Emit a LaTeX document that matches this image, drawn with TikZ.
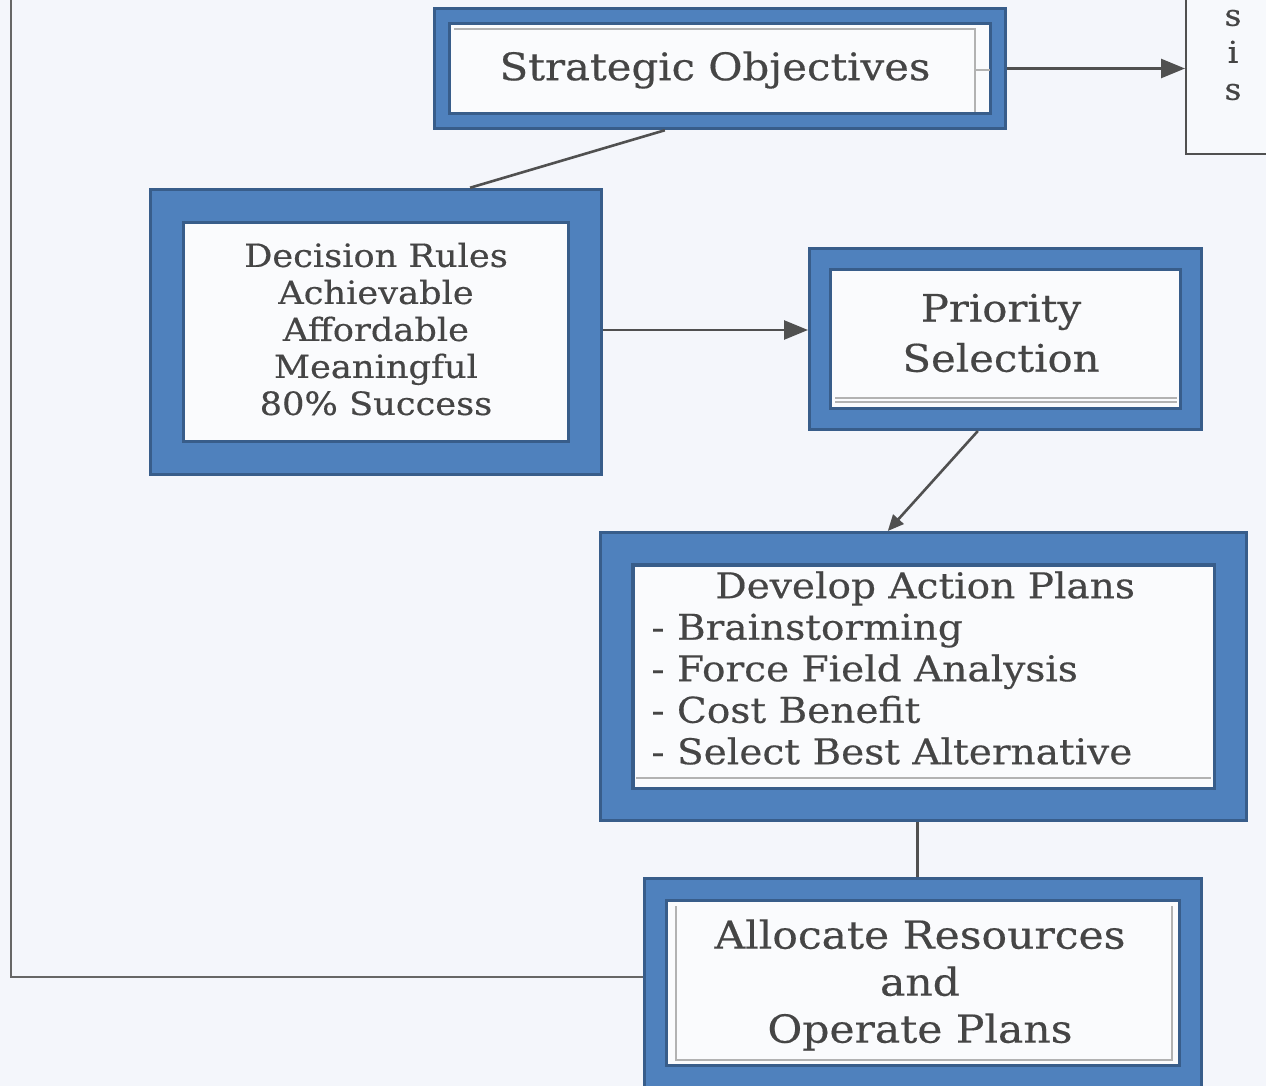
\documentclass[tikz,border=0pt]{standalone}
\usepackage{fontspec}
\setmainfont{DejaVu Serif}[FakeStretch=1.1,FakeBold=0.4]
\usetikzlibrary{arrows.meta,calc}
\definecolor{bgc}{HTML}{F4F6FB}
\definecolor{innerc}{HTML}{FAFBFD}
\definecolor{fblue}{HTML}{4F81BD}
\definecolor{fedge}{HTML}{385D8A}
\definecolor{ink}{HTML}{454545}
\definecolor{connc}{HTML}{505050}
\pgfdeclarelayer{background}
\pgfsetlayers{background,main}
\begin{document}
\begin{tikzpicture}[x=0.5pt,y=-0.5pt,
  frame/.style 2 args={draw=fedge,line width=1.6pt,double=fblue,double distance=#1,
    fill=innerc,inner sep=0pt,outer sep=#2},
  txt/.style={text=ink,inner sep=0pt},
  connector/.style={draw=connc,line width=1.3pt},
  arrowed/.style={connector,-{Triangle[length=12pt,width=9.5pt]}},
  smallarrowed/.style={connector,-{Triangle[length=8pt,width=7pt]}},
  scanline/.style={draw=gray!60,line width=0.8pt},
  fbline/.style={draw=gray!80!black,line width=1pt}]
\useasboundingbox (0,0) rectangle (1266,1086);
\clip (0,0) rectangle (1266,1086);
\begin{pgfonlayer}{background}
  \fill[bgc] (0,0) rectangle (1266,1086);
\end{pgfonlayer}

% partial box at top right
\node[draw=connc,line width=1pt,fill=innerc!50!bgc,inner sep=0pt,minimum width=150pt,
  minimum height=200pt,anchor=south west] (RB) at (1185,155) {};
\node[txt,font=\fontsize{15}{18.5}\selectfont,align=center] (tRB) at (1233,55) {s\\i\\s};

% framed boxes
\node[frame={5.8pt}{4.5pt},minimum width=278.25pt,minimum height=52.75pt] (SO) at (720,68.5) {};
\node[frame={15.05pt}{9.125pt},minimum width=209pt,minimum height=126pt] (DR) at (376,332) {};
\node[frame={8.8pt}{6pt},minimum width=185.5pt,minimum height=80pt] (PS) at (1005.5,339) {};
\node[frame={14.55pt}{8.875pt},minimum width=306.75pt,minimum height=127.75pt] (DAP) at (923.5,676.5) {};
\node[frame={9.3pt}{6.25pt},minimum width=267.5pt,minimum height=93.5pt] (AR) at (923,983) {};

% faint lines of the scanned original inside the frames
\draw[scanline] (454,29) -- (975,29) -- (975,112);
\draw[scanline] (975,70) -- (990,70);
\draw[scanline] (835,398) -- (1177,398);
\draw[scanline] (835,402) -- (1177,402);
\draw[scanline] (636,778) -- (1211,778);
\draw[scanline] (676,906) -- (676,1060) -- (1172,1060) -- (1172,906);

% texts
\node[txt,font=\fontsize{19}{22}\selectfont] (tSO) at (715,70) {Strategic Objectives};
\node[txt,font=\fontsize{16}{18.5}\selectfont,align=center] (tDR) at (376,329)
  {Decision Rules\\Achievable\\Affordable\\Meaningful\\80\% Success};
\node[txt,font=\fontsize{19}{25}\selectfont,align=center] (tPS) at (1001,333) {Priority\\Selection};
\node[txt,font=\fontsize{17.75}{20.75}\selectfont,align=left,anchor=west] (tDAP) at (651,668)
  {\hspace*{32pt}Develop Action Plans\\- Brainstorming\\- Force Field Analysis\\- Cost Benefit\\- Select Best Alternative};
\node[txt,font=\fontsize{19.3}{23.5}\selectfont,align=center] (tAR) at (920,985)
  {Allocate Resources\\and\\Operate Plans};

% connectors
\draw[arrowed] (SO.east) -- (SO.east -| RB.west);
\draw[connector] ($(SO.south west)!0.404!(SO.south east)$) -- ($(DR.north west)!0.707!(DR.north east)$);
\draw[arrowed] ([yshift=1pt]DR.east) -- ([yshift=1pt]DR.east -| PS.west);
\draw[smallarrowed] ($(PS.south west)!0.43!(PS.south east)$) -- ($(DAP.north west)!0.445!(DAP.north east)$);
\draw[connector] ($(DAP.south west)!0.491!(DAP.south east)$) -- ++(0,55);
\coordinate (fbtop) at (11,-10);
\draw[fbline] ([yshift=3pt]AR.west) -| (fbtop);
\end{tikzpicture}
\end{document}
